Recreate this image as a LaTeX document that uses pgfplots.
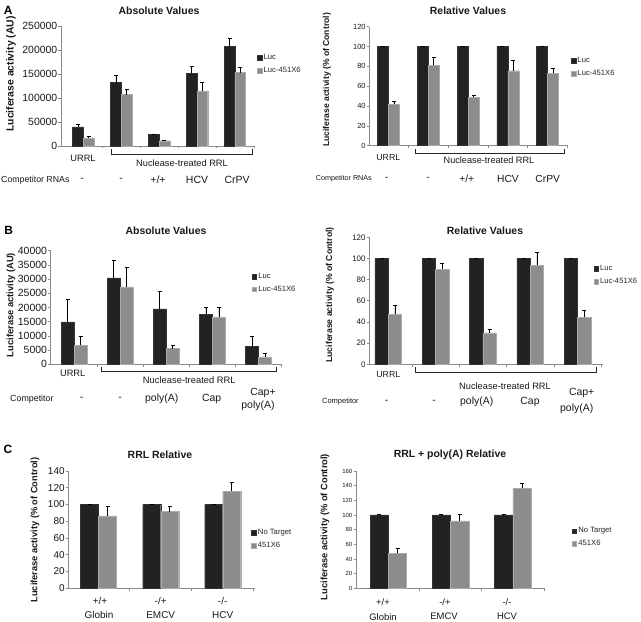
\documentclass[border=0pt]{standalone}
\usepackage{pgfplots}
\pgfplotsset{compat=1.18}
\usepackage{fontspec}
\setmainfont{Liberation Sans}
\newcommand\fs[1]{\fontsize{#1}{#1}\selectfont}
\definecolor{barblack}{HTML}{222222}
\definecolor{barblackedge}{HTML}{333333}
\definecolor{bargray}{HTML}{8C8C8C}
\definecolor{bargrayedge}{HTML}{ABABAB}
\definecolor{axisgray}{HTML}{8A8A8A}
\pgfplotsset{
  mybar/.style={
    ybar=0pt, scale only axis, enlargelimits=false, clip=false,
    axis lines*=left,
    axis line style={draw=axisgray, line width=0.6bp},
    every tick/.style={draw=axisgray, line width=0.6bp},
    major tick length=2.5bp, tick align=outside,
    xticklabels={},
    ymin=0,
    /pgf/number format/assume math mode=true,
    /pgf/number format/fixed,
    /pgf/number format/1000 sep={},
    scaled y ticks=false,
    yticklabel style={text=black!90, inner sep=1bp},
    error bars/y dir=plus, error bars/y explicit,
    error bars/error bar style={black, line width=0.7bp},
    error bars/error mark options={rotate=90, mark size=2bp, black, line width=0.7bp},
    legend image code/.code={\fill[##1] (0bp,-2.3bp) rectangle (4.6bp,2.3bp);},
    legend style={draw=none, fill=none, inner sep=0pt, row sep=3bp, font=\fs{7.7}, text=black!85, nodes={inner sep=1.5bp}},
    legend cell align=left,
  },
  luc/.style={fill=barblack, draw=barblackedge, line width=0.4bp},
  gry/.style={fill=bargray, draw=bargrayedge, line width=0.4bp},
}
\begin{document}
\begin{tikzpicture}
\clip (0bp,0bp) rectangle (641bp,622bp);
\fill[white] (0bp,0bp) rectangle (641bp,622bp);

% ---------------- Panel A left
\begin{axis}[mybar, at={(61bp,476bp)}, anchor=south west, width=194bp, height=120bp,
  xmin=-0.59, xmax=4.53, ymax=250000, ytick={0,50000,100000,150000,200000,250000},
  xtick={0.5,1.5,2.5,3.5,4.5}, bar width=10.7bp, yticklabel style={font=\fs{10.5}},
  legend style={at={(1.01,0.68)}, anchor=west}]
\addplot[luc] coordinates {(0,39700) +- (0,4900) (1,132000) +- (0,15000) (2,23700) +- (0,1500) (3,152000) +- (0,13000) (4,208000) +- (0,15500)};
\addplot[gry] coordinates {(0,16700) +- (0,2800) (1,107000) +- (0,11000) (2,11000) +- (0,1500) (3,115000) +- (0,18000) (4,153000) +- (0,11000)};
\legend{Luc,Luc-451X6}
\end{axis}

% ---------------- Panel A right
\begin{axis}[mybar, at={(369.3bp,476.3bp)}, anchor=south west, width=198.7bp, height=119bp,
  xmin=-0.48, xmax=4.51, ymax=120, ytick={0,20,...,120},
  xtick={0.5,1.5,2.5,3.5,4.5}, bar width=11bp, yticklabel style={font=\fs{7.5}},
  legend style={at={(1.014,0.66)}, anchor=west}]
\addplot[luc] coordinates {(0,100) +- (0,0.4) (1,100) +- (0,0.4) (2,100) +- (0,0.4) (3,100) +- (0,0.4) (4,100) +- (0,0.4)};
\addplot[gry] coordinates {(0,41.7) +- (0,2.7) (1,81.3) +- (0,7.7) (2,48.7) +- (0,1.7) (3,75.6) +- (0,10.1) (4,72.9) +- (0,5.1)};
\legend{Luc,Luc-451X6}
\end{axis}

% ---------------- Panel B left
\begin{axis}[mybar, at={(50.7bp,257.7bp)}, anchor=south west, width=231bp, height=113.6bp,
  xmin=-0.505, xmax=4.5, ymax=40000, ytick={0,5000,10000,15000,20000,25000,30000,35000,40000},
  xtick={0.5,1.5,2.5,3.5,4.5}, bar width=13bp, yticklabel style={font=\fs{10.5}},
  legend style={at={(0.87,0.716)}, anchor=west}]
\addplot[luc] coordinates {(0,14900) +- (0,8000) (1,30400) +- (0,6200) (2,19500) +- (0,6100) (3,17700) +- (0,2400) (4,6200) +- (0,3700)};
\addplot[gry] coordinates {(0,6700) +- (0,3300) (1,27300) +- (0,6800) (2,5500) +- (0,1200) (3,16500) +- (0,3600) (4,2600) +- (0,1400)};
\legend{Luc,Luc-451X6}
\end{axis}

% ---------------- Panel B right
\begin{axis}[mybar, at={(369.3bp,257.7bp)}, anchor=south west, width=233.4bp, height=127bp,
  xmin=-0.4, xmax=4.53, ymax=120, ytick={0,20,...,120},
  xtick={0.5,1.5,2.5,3.5,4.5}, bar width=13.3bp, yticklabel style={font=\fs{8}},
  legend style={at={(0.96,0.70)}, anchor=west}]
\addplot[luc] coordinates {(0,100) +- (0,0.4) (1,100) +- (0,0.4) (2,100) +- (0,0.4) (3,100) +- (0,0.4) (4,100) +- (0,0.4)};
\addplot[gry] coordinates {(0,47.2) +- (0,8.5) (1,89.8) +- (0,5.6) (2,29.6) +- (0,3.5) (3,93.5) +- (0,12.6) (4,44.4) +- (0,7)};
\legend{Luc,Luc-451X6}
\end{axis}

% ---------------- Panel C left
\begin{axis}[mybar, at={(68.3bp,33.7bp)}, anchor=south west, width=186.7bp, height=117.3bp,
  xmin=-0.49, xmax=2.52, ymax=140, ytick={0,20,...,140},
  xtick={0.5,1.5,2.5}, bar width=18bp, yticklabel style={font=\fs{10}},
  legend style={at={(0.98,0.42)}, anchor=west}]
\addplot[luc] coordinates {(0,100) +- (0,0.4) (1,100) +- (0,0.4) (2,100) +- (0,0.4)};
\addplot[gry] coordinates {(0,86.3) +- (0,11.1) (1,91.5) +- (0,6.7) (2,115.7) +- (0,10.3)};
\legend{No Target,451X6}
\end{axis}

% ---------------- Panel C right
\begin{axis}[mybar, at={(356bp,33.7bp)}, anchor=south west, width=188bp, height=117.3bp,
  xmin=-0.52, xmax=2.5, ymax=160, ytick={0,20,...,160},
  xtick={0.5,1.5,2.5}, bar width=18.3bp, yticklabel style={font=\fs{6}},
  legend style={at={(1.147,0.433)}, anchor=west}]
\addplot[luc] coordinates {(0,100) +- (0,0.4) (1,100) +- (0,0.4) (2,100) +- (0,0.4)};
\addplot[gry] coordinates {(0,47.7) +- (0,6.8) (1,91.8) +- (0,9.1) (2,136.4) +- (0,6.8)};
\legend{No Target,451X6}
\end{axis}

\begin{scope}[x=1bp,y=1bp]
% ---------------- titles, letters
\begin{scope}[every node/.style={font=\bfseries\fs{10.5}, text=black!90, inner sep=0pt}]
\node at (159,622-11) {Absolute Values};
\node at (468,622-10.7) {Relative Values};
\node at (166,622-230.7) {Absolute Values};
\node at (485,622-231) {Relative Values};
\node at (160,622-455) {RRL Relative};
\node at (450,622-454.3) {RRL + poly(A) Relative};
\end{scope}
\begin{scope}[every node/.style={font=\bfseries\fs{12}, inner sep=0pt}]
\node at (8.3,622-10.7) {A};
\node at (8.7,622-230.5) {B};
\node at (8,622-449.5) {C};
\end{scope}

% ---------------- y labels
\begin{scope}[every node/.style={rotate=90, inner sep=0pt, text=black!90}]
\node[font=\bfseries\fs{10.4}] at (11,622-74) {Luciferase activity (AU)};
\node[font=\bfseries\fs{8.6}] at (327,622-80) {Luciferase activity (\% of Control)};
\node[font=\bfseries\fs{9.4}] at (11,622-305) {Luciferase activity (AU)};
\node[font=\bfseries\fs{8.7}] at (330,622-295) {Luciferase activity (\% of Control)};
\node[font=\bfseries\fs{9.3}] at (35,622-530) {Luciferase activity (\% of Control)};
\node[font=\bfseries\fs{9.4}] at (325,622-527) {Luciferase activity (\% of Control)};
\end{scope}

% ---------------- brackets
\begin{scope}[line width=0.7bp, black!85]
\draw (111,622-149) -- (111,622-154) -- (252,622-154) -- (252,622-149);
\draw (415.7,622-149) -- (415.7,622-153) -- (564,622-153) -- (564,622-149);
\draw (101.7,622-367.3) -- (101.7,622-371.7) -- (276.7,622-371.7) -- (276.7,622-367.3);
\draw (415.7,622-367.3) -- (415.7,622-372.3) -- (596.7,622-372.3) -- (596.7,622-367.3);
\end{scope}

% ---------------- category texts
\begin{scope}[every node/.style={inner sep=0pt, text=black!90}]
% A left
\node[font=\fs{9.3}] at (83,622-158) {URRL};
\node[font=\fs{9.3}] at (182,622-163) {Nuclease-treated RRL};
\node[font=\fs{8.8}, anchor=west] at (1,622-180) {Competitor RNAs};
\node[font=\fs{10.5}] at (82,622-180) {-};
\node[font=\fs{10.5}] at (121,622-180) {-};
\node[font=\fs{10.5}] at (158,622-180) {+/+};
\node[font=\fs{10.5}] at (197,622-180) {HCV};
\node[font=\fs{10.5}] at (237,622-180) {CrPV};
% A right
\node[font=\fs{8.8}] at (388.3,622-157.3) {URRL};
\node[font=\fs{9.2}] at (489,622-160) {Nuclease-treated RRL};
\node[font=\fs{7.2}, anchor=east] at (372,622-179) {Competitor RNAs};
\node[font=\fs{10.3}] at (386.7,622-179) {-};
\node[font=\fs{10.3}] at (428,622-179) {-};
\node[font=\fs{10.3}] at (466.7,622-179) {+/+};
\node[font=\fs{10.3}] at (508,622-179) {HCV};
\node[font=\fs{10.3}] at (547.7,622-179) {CrPV};
% B left
\node[font=\fs{9.3}] at (72.7,622-373.3) {URRL};
\node[font=\fs{9.4}] at (189.3,622-380) {Nuclease-treated RRL};
\node[font=\fs{8.9}, anchor=west] at (10,622-399) {Competitor};
\node[font=\fs{10.5}] at (81.7,622-399) {-};
\node[font=\fs{10.5}] at (120,622-399) {-};
\node[font=\fs{10.5}] at (161.7,622-399) {poly(A)};
\node[font=\fs{10.5}] at (211.7,622-399) {Cap};
\node[font=\fs{10.5}] at (263,622-392.7) {Cap+};
\node[font=\fs{10.5}] at (258,622-406) {poly(A)};
% B right
\node[font=\fs{8.8}] at (388.3,622-375) {URRL};
\node[font=\fs{9.3}] at (505,622-385.7) {Nuclease-treated RRL};
\node[font=\fs{7.5}, anchor=west] at (322,622-401.7) {Competitor};
\node[font=\fs{10.5}] at (386.7,622-401.7) {-};
\node[font=\fs{10.5}] at (434,622-401.7) {-};
\node[font=\fs{10.5}] at (476.7,622-401.7) {poly(A)};
\node[font=\fs{10.5}] at (530,622-401.7) {Cap};
\node[font=\fs{10.5}] at (581.7,622-393.3) {Cap+};
\node[font=\fs{10.5}] at (576.7,622-408.3) {poly(A)};
% C left
\node[font=\fs{10}] at (100,622-600.7) {+/+};
\node[font=\fs{10}] at (99,622-615) {Globin};
\node[font=\fs{10}] at (160.7,622-600.7) {-/+};
\node[font=\fs{10}] at (160.7,622-615) {EMCV};
\node[font=\fs{10}] at (222.7,622-600.7) {-/-};
\node[font=\fs{10}] at (222.7,622-615) {HCV};
% C right
\node[font=\fs{9.5}] at (383,622-601.7) {+/+};
\node[font=\fs{9.5}] at (383,622-616.7) {Globin};
\node[font=\fs{9.5}] at (445,622-601.7) {-/+};
\node[font=\fs{9.5}] at (444,622-616.7) {EMCV};
\node[font=\fs{9.5}] at (507,622-601.7) {-/-};
\node[font=\fs{9.5}] at (507,622-616.7) {HCV};
\end{scope}
\end{scope}
\end{tikzpicture}
\end{document}
